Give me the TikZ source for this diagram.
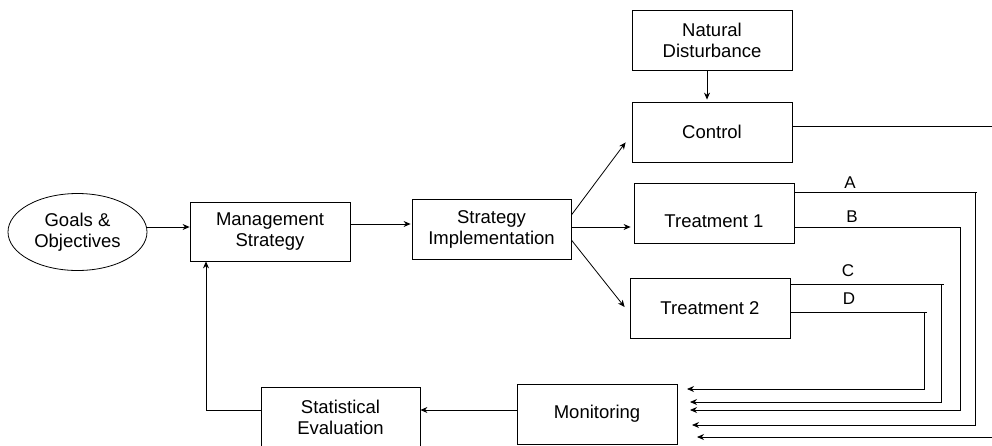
\documentclass[tikz,border=0pt]{standalone}
\usepackage{fontspec}
\setmainfont{Liberation Sans}
\usetikzlibrary{arrows.meta,shapes.geometric}
\begin{document}
\begin{tikzpicture}[x=1pt,y=-1pt,
  line width=0.8pt,
  box/.style={draw, rectangle, minimum width=160pt, minimum height=60pt, inner sep=0pt, align=center, font=\fontsize{18.5}{21}\selectfont},
  oval/.style={draw, ellipse, minimum width=139pt, minimum height=77pt, inner sep=0pt, align=center, font=\fontsize{18.5}{21}\selectfont},
  arr/.style={-{Stealth[length=7pt,width=6pt]}},
  lbl/.style={font=\fontsize{17}{19}\selectfont, inner sep=0pt}]
\useasboundingbox (0,0) rectangle (992,445);
\clip (0,0) rectangle (992,445);

\node[oval] (goals) at (77.5,232) {Goals \&\\Objectives};
\node[box, minimum height=59pt] (ms) at (270,231.5) {Management\\Strategy};
\node[box, minimum width=159pt] (si) at (491.5,229) {Strategy\\Implementation};
\node[box] (nd) at (712,40) {Natural\\Disturbance};
\node[box] (control) at (712,132) {Control};
\node[box] (t1) at (714,213) {\raisebox{-8pt}[\height][\depth]{Treatment 1}};
\node[box] (t2) at (710,308) {Treatment 2};
\node[box, minimum width=159pt] (se) at (340.5,417) {Statistical\\Evaluation};
\node[box] (mon) at (597,414) {Monitoring};

% main flow
\draw[arr] ([yshift=5pt]goals.east) coordinate (g1) -- (g1 -| ms.west);
\draw[arr] ([yshift=7.5pt]ms.east) coordinate (m1) -- ([xshift=-1pt]m1 -| si.west);
\draw[arr] ([yshift=14pt]si.east) -- ([xshift=-6pt,yshift=20pt]control.south west);
\draw[arr] ([yshift=2pt]si.east) coordinate (s1) -- ([xshift=-3pt]s1 -| t1.west);
\draw[arr] ([yshift=-11pt]si.east) -- ([xshift=-5pt,yshift=1pt]t2.west);
\draw[arr] ([xshift=-5pt]nd.south) -- ([xshift=-5pt,yshift=2pt]control.north);

% feedback
\draw[arr] ([yshift=4pt]mon.west) coordinate (mo1) -- (mo1 -| se.east);
\draw[arr] ([yshift=7pt]se.west) -| ([xshift=-64pt]ms.south);

% outputs to monitoring
\coordinate (eA) at (692,425);
\coordinate (eB) at (690,410);
\coordinate (eC) at (690,402);
\coordinate (eD) at (687,389);
\coordinate (eK) at (697,437);

\draw[arr] ([yshift=6pt]control.east) coordinate (k0) -- (k0 -| 994,0) |- (eK);
\draw ([yshift=-10pt]t1.north east) coordinate (a0) -- (a0 -| 977,0);
\draw[arr] (975,193) |- (eA);
\draw[arr] ([yshift=-14pt]t1.east) coordinate (b0) -- (b0 -| 960,0) |- (eB);
\draw (t2.north east) ++(0,7) coordinate (c0) -- (c0 -| 944,0);
\draw[arr] (941,285) |- (eC);
\draw ([yshift=-4pt]t2.east) coordinate (d0) -- (d0 -| 927,0);
\draw[arr] (924,312) |- (eD);

\node[lbl] at (850,183) {A};
\node[lbl] at (852,217) {B};
\node[lbl] at (848,271) {C};
\node[lbl] at (849,299) {D};
\end{tikzpicture}
\end{document}
